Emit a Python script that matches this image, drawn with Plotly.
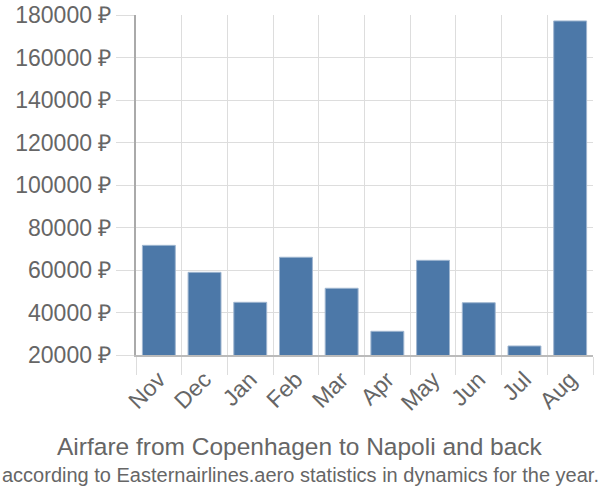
import plotly.graph_objects as go

months = ["Nov", "Dec", "Jan", "Feb", "Mar", "Apr", "May", "Jun", "Jul", "Aug"]
prices = [71600, 58900, 44800, 66000, 51400, 31150, 64550, 44600, 24240, 177200]
y_ticks = [20000, 40000, 60000, 80000, 100000, 120000, 140000, 160000, 180000]
y_labels = [f"{v} ₽" for v in y_ticks]
title = "Airfare from Copenhagen to Napoli and back"
subtitle = "according to Easternairlines.aero statistics in dynamics for the year."

FONT = "Liberation Sans, Arial, sans-serif"
GREY = "#666666"

L, R, T, B = 136, 7, 15, 145
W, H = 600, 500
pw, ph = W - L - R, H - T - B

fig = go.Figure(go.Bar(
    x=months, y=prices,
    marker=dict(color="#4c78a8", line=dict(color="#9fb6d0", width=1)),
))

def px_to_paper(xp, yp):
    return (xp - L) / pw, (H - B - yp) / ph

tx, ty = px_to_paper(300, 446)
sx, sy = px_to_paper(300, 475)

fig.update_layout(
    width=W, height=H,
    margin=dict(l=L, r=R, t=T, b=B, autoexpand=False),
    paper_bgcolor="white", plot_bgcolor="white",
    bargap=0.28,
    showlegend=False,
    font=dict(family=FONT, color=GREY),
    xaxis=dict(
        type="category", tickson="boundaries", automargin=False,
        showgrid=True, gridcolor="#dddddd", gridwidth=1,
        ticks="outside", ticklen=18, tickcolor="#dddddd",
        tickangle=-45, tickfont=dict(size=23, color=GREY),
        showline=True, linecolor="#bbbbbb", linewidth=2,
    ),
    yaxis=dict(
        range=[20000, 180000], automargin=False,
        tickvals=y_ticks, ticktext=y_labels,
        showgrid=True, gridcolor="#dddddd", gridwidth=1,
        ticks="outside", ticklen=18, tickcolor="#dddddd",
        tickfont=dict(size=23, color=GREY),
        showline=True, linecolor="#aaaaaa", linewidth=2,
        zeroline=False,
    ),
    annotations=[
        dict(text=title, x=tx, xref="paper", xanchor="center",
             y=ty, yref="paper", yanchor="middle", showarrow=False,
             font=dict(size=24.5, color=GREY, family=FONT)),
        dict(text=subtitle, x=sx, xref="paper", xanchor="center",
             y=sy, yref="paper", yanchor="middle", showarrow=False,
             font=dict(size=20, color=GREY, family=FONT)),
    ],
)

fig.write_html("out.html")
